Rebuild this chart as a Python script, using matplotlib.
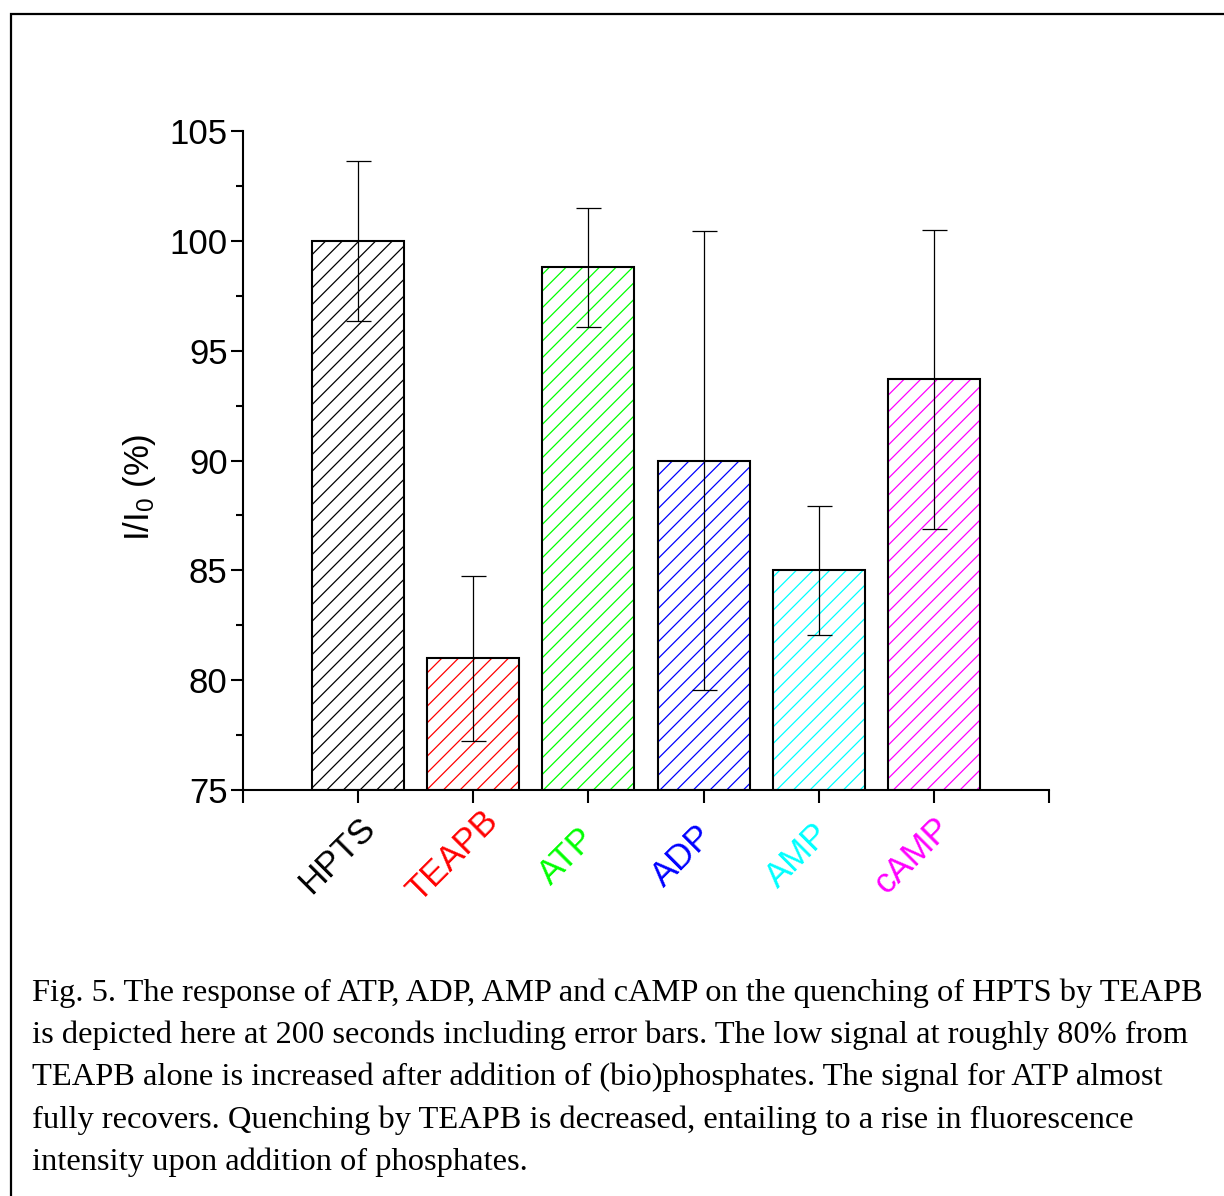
import numpy as np
import matplotlib
matplotlib.use('Agg')
import matplotlib.pyplot as plt
from matplotlib.patches import Rectangle
from matplotlib.transforms import offset_copy

plt.rcParams['font.family'] = ['Liberation Sans', 'DejaVu Sans']
plt.rcParams['mathtext.fontset'] = 'custom'
plt.rcParams['mathtext.rm'] = 'Liberation Sans'
plt.rcParams['mathtext.it'] = 'Liberation Sans'
plt.rcParams['hatch.linewidth'] = 0.9

# datos
nombres = ['HPTS', 'TEAPB', 'ATP', 'ADP', 'AMP', 'cAMP']
valores = [100.0, 81.0, 98.8, 90.0, 85.0, 93.7]
errores = [3.65, 3.75, 2.7, 10.45, 2.95, 6.8]
colores = ['#000000', '#FF0000', '#00FF00', '#0000FF', '#00FFFF', '#FF00FF']

leyenda = ["Fig. 5. The response of ATP, ADP, AMP and cAMP on the quenching of HPTS by TEAPB",
           "is depicted here at 200 seconds including error bars. The low signal at roughly 80% from",
           "TEAPB alone is increased after addition of (bio)phosphates. The signal for ATP almost",
           "fully recovers. Quenching by TEAPB is decreased, entailing to a rise in fluorescence",
           "intensity upon addition of phosphates."]

W, H = 1224, 1196
fig = plt.figure(figsize=(W/100, H/100), dpi=100)

# marco alrededor de la figura
fig.add_artist(Rectangle((11/W, -0.05), 1.2, 1 - 14/H + 0.05, transform=fig.transFigure,
                         fill=False, edgecolor='black', linewidth=1.6))

ax = fig.add_axes([243/W, 1 - 790/H, (1049 - 243)/W, (790 - 131)/H])

x = np.arange(1, len(nombres) + 1)
ancho = 0.8
base = 75
alturas = np.array(valores) - base

# relleno rayado con el color de cada barra, despues el borde negro
for xi, h, c in zip(x, alturas, colores):
    ax.bar(xi, h, ancho, bottom=base, color='none', edgecolor=c, hatch='//', linewidth=0, zorder=2)
ax.bar(x, alturas, ancho, bottom=base, fill=False, edgecolor='black', linewidth=1.5, zorder=3)
ax.errorbar(x, valores, yerr=errores, fmt='none', ecolor='black', elinewidth=0.9,
            capsize=9, capthick=0.9, zorder=4)

ax.set_xlim(0, 7)
ax.set_ylim(75, 105)
ax.set_xticks(np.arange(0, 8))
ax.set_xticklabels([])
ax.set_yticks(np.arange(75, 106, 5))
ax.set_yticks(np.arange(75, 105, 2.5), minor=True)

for s in ['top', 'right']:
    ax.spines[s].set_visible(False)
for s in ['left', 'bottom']:
    ax.spines[s].set_linewidth(1.5)

ax.tick_params(axis='both', which='major', direction='out', length=9, width=1.5, labelsize=25)
ax.tick_params(axis='y', which='minor', direction='out', length=5, width=1.5)
ax.tick_params(axis='y', pad=2)

# etiquetas del eje x, giradas y de colores
tr = offset_copy(ax.get_xaxis_transform(), fig=fig, x=-21, y=-66, units='dots')
for xi, n, c in zip(x, nombres, colores):
    ax.text(xi, 0, n, transform=tr, color=c, fontsize=25, rotation=45,
            ha='center', va='center', rotation_mode='anchor')

ax.set_ylabel(r'I/I$_0$ (%)', fontsize=25)
ax.yaxis.set_label_coords(-0.105, 0.46)

y0 = 993
for i, linea in enumerate(leyenda):
    fig.text(32/W, 1 - (y0 + i*42.3)/H, linea, family=['Liberation Serif', 'DejaVu Serif'],
             fontsize=23.4, va='center', ha='left')

fig.savefig('out.png', dpi=100)
